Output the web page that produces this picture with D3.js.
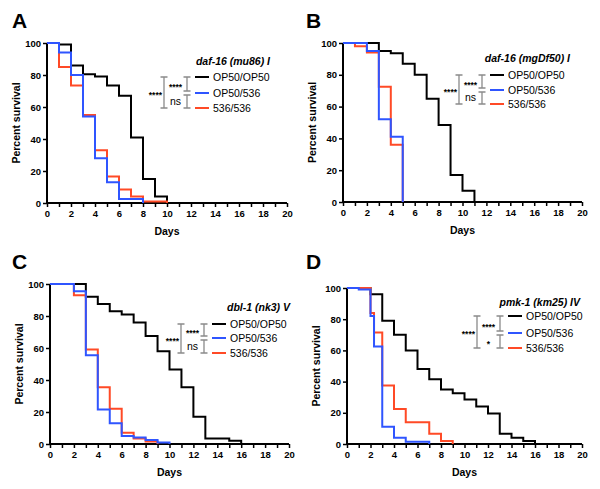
<!DOCTYPE html>
<html>
<head>
<meta charset="utf-8">
<script src="https://cdnjs.cloudflare.com/ajax/libs/d3/7.8.5/d3.min.js"></script>
<style>
  body { margin: 0; background: #fff; }
  text { font-family: "Liberation Sans", Arial, sans-serif; }
</style>
</head>
<body>
<div id="chart"></div>
<script>
// survival data (days, percent survival)
var groups = ["OP50/OP50", "OP50/536", "536/536"];
var colors = ["#000000", "#2f55ff", "#ff4a26"];

// A: daf-16 (mu86) I
var a_days_op50 = [0, 1, 2, 3, 4, 5, 6, 7, 8, 9, 10];
var a_surv_op50 = [100, 99, 86, 80.5, 79, 73.5, 67, 41, 15, 4, 0];
var a_days_mix = [0, 1, 2, 3, 4, 5, 6, 8];
var a_surv_mix = [100, 94, 80, 54, 28, 13, 2.5, 0];
var a_days_536 = [0, 1, 2, 3, 4, 5, 6, 7, 8, 10];
var a_surv_536 = [100, 85, 73.5, 55, 33, 16.5, 8.5, 4, 1, 0];

// B: daf-16 (mgDf50) I
var b_days_op50 = [0, 3, 4, 5, 6, 7, 8, 9, 10, 11];
var b_surv_op50 = [100, 95, 93.5, 87, 80, 65, 48.5, 17, 7, 0];
var b_days_mix = [0, 2, 3, 4, 5];
var b_surv_mix = [100, 95, 52, 41, 0];
var b_days_536 = [0, 1, 2, 3, 4, 5];
var b_surv_536 = [100, 98, 94, 72.5, 36, 0];

// C: dbl-1 (nk3) V
var c_days_op50 = [0, 3, 4, 5, 6, 7, 8, 9, 10, 11, 12, 13, 15, 16];
var c_surv_op50 = [100, 92, 87.5, 83, 81, 76, 67.5, 58, 46.5, 35.5, 17, 3.5, 2, 0];
var c_days_mix = [0, 2, 3, 4, 5, 6, 7, 8, 9, 10];
var c_surv_mix = [100, 95.5, 55.5, 21.5, 13, 5, 4, 2.5, 1, 0];
var c_days_536 = [0, 2, 3, 4, 5, 6, 7, 8, 9];
var c_surv_536 = [100, 93, 59, 35.5, 22, 7, 3.5, 1.5, 0];

// D: pmk-1 (km25) IV
var d_days_op50 = [0, 2, 3, 4, 5, 6, 7, 8, 9, 10, 11, 12, 13, 14, 15, 16];
var d_surv_op50 = [100, 96, 79, 70, 60, 48, 41.5, 35, 32.5, 28.5, 24, 19.5, 6.5, 4, 2, 0];
var d_days_mix = [0, 1, 2, 2.3, 3, 4, 5, 7];
var d_surv_mix = [100, 99, 82, 62.5, 11, 4, 1.5, 0];
var d_days_536 = [0, 2, 2.3, 3, 4, 5, 7, 8, 9];
var d_surv_536 = [100, 84, 71.5, 37.5, 22.5, 14, 6.5, 2, 0];

var x_ticks = d3.range(0, 21, 1);
var y_ticks = [0, 20, 40, 60, 80, 100];

// significance labels: [OP50/OP50 vs 536/536, OP50/OP50 vs OP50/536, OP50/536 vs 536/536]
var panels = [
    {letter: "A", title: "daf-16 (mu86) I", sig: ["****", "****", "ns"],
     days: [a_days_op50, a_days_mix, a_days_536], surv: [a_surv_op50, a_surv_mix, a_surv_536],
     x0: 47, x1: 287, y0: 203, y1: 43, lx: 195, ly: [77, 93, 108], tx: 270, ty: 65},
    {letter: "B", title: "daf-16 (mgDf50) I", sig: ["****", "****", "ns"],
     days: [b_days_op50, b_days_mix, b_days_536], surv: [b_surv_op50, b_surv_mix, b_surv_536],
     x0: 343, x1: 582, y0: 202, y1: 43, lx: 490, ly: [75, 90, 104], tx: 570, ty: 62},
    {letter: "C", title: "dbl-1 (nk3) V", sig: ["****", "****", "ns"],
     days: [c_days_op50, c_days_mix, c_days_536], surv: [c_surv_op50, c_surv_mix, c_surv_536],
     x0: 50, x1: 289, y0: 444, y1: 284, lx: 212, ly: [324, 338, 353], tx: 290, ty: 311},
    {letter: "D", title: "pmk-1 (km25) IV", sig: ["****", "****", "*"],
     days: [d_days_op50, d_days_mix, d_days_536], surv: [d_surv_op50, d_surv_mix, d_surv_536],
     x0: 347, x1: 582, y0: 444, y1: 288, lx: 508, ly: [316, 333, 348], tx: 580, ty: 306}
];

var svg = d3.select("#chart").append("svg")
    .attr("width", 600)
    .attr("height", 489);

svg.append("rect").attr("width", 600).attr("height", 489).attr("fill", "#fff");

var letter_pos = [[12, 28], [306, 28], [12, 269], [306, 269]];

function draw_panel(p, i) {
    var g = svg.append("g");
    var x = d3.scaleLinear().domain([0, 20]).range([p.x0, p.x1]);
    var y = d3.scaleLinear().domain([0, 100]).range([p.y0, p.y1]);

    // panel letter
    g.append("text")
        .attr("x", letter_pos[i][0])
        .attr("y", letter_pos[i][1])
        .attr("font-size", 21)
        .attr("font-weight", "bold")
        .text(p.letter);

    // x axis, a tick every day, label every 2
    var x_axis = g.append("g")
        .attr("transform", "translate(0," + p.y0 + ")")
        .call(d3.axisBottom(x).tickValues(x_ticks).tickSize(4).tickPadding(3)
            .tickFormat(d => d % 2 === 0 ? d : ""));
    var y_axis = g.append("g")
        .attr("transform", "translate(" + p.x0 + ",0)")
        .call(d3.axisLeft(y).tickValues(y_ticks).tickSize(4).tickPadding(2));
    [x_axis, y_axis].forEach(function(ax) {
        ax.select(".domain").remove();
        ax.selectAll(".tick line").attr("stroke-width", 1.5);
        ax.selectAll("text")
            .attr("font-size", 9.5)
            .attr("font-weight", "bold")
            .attr("font-family", "Liberation Sans, Arial, sans-serif")
            .attr("fill", "#000");
    });
    // axis lines without the outer ticks
    g.append("line").attr("x1", p.x0 - 1).attr("x2", p.x1).attr("y1", p.y0).attr("y2", p.y0)
        .attr("stroke", "#000").attr("stroke-width", 2);
    g.append("line").attr("x1", p.x0).attr("x2", p.x0).attr("y1", p.y0).attr("y2", p.y1)
        .attr("stroke", "#000").attr("stroke-width", 2);

    g.append("text")
        .attr("x", (p.x0 + p.x1) / 2)
        .attr("y", p.y0 + 32)
        .attr("text-anchor", "middle")
        .attr("font-size", 10.5)
        .attr("font-weight", "bold")
        .text("Days");
    g.append("text")
        .attr("transform", "translate(" + (p.x0 - 27) + "," + ((p.y0 + p.y1) / 2) + ") rotate(-90)")
        .attr("text-anchor", "middle")
        .attr("font-size", 10.5)
        .attr("font-weight", "bold")
        .text("Percent survival");

    // survival curves, black under red under blue
    var line = d3.line()
        .x(d => x(d[0]))
        .y(d => y(d[1]))
        .curve(d3.curveStepAfter);
    [0, 2, 1].forEach(function(k) {
        var pts = d3.zip(p.days[k], p.surv[k]);
        g.append("path")
            .attr("d", line(pts))
            .attr("fill", "none")
            .attr("stroke", colors[k])
            .attr("stroke-width", 2);
    });

    // legend
    g.append("text")
        .attr("x", p.tx)
        .attr("y", p.ty)
        .attr("text-anchor", "end")
        .attr("font-size", 10.5)
        .attr("font-weight", "bold")
        .attr("font-style", "italic")
        .text(p.title);
    groups.forEach(function(name, k) {
        g.append("line")
            .attr("x1", p.lx).attr("x2", p.lx + 14)
            .attr("y1", p.ly[k]).attr("y2", p.ly[k])
            .attr("stroke", colors[k]).attr("stroke-width", 2);
        g.append("text")
            .attr("x", p.lx + 18)
            .attr("y", p.ly[k] + 4)
            .attr("font-size", 10.5)
            .text(name);
    });

    // significance brackets
    var bx_big = p.lx - 31;
    var bx_small = p.lx - 8;
    function bracket(bx, ya, yb) {
        g.append("path")
            .attr("d", "M" + (bx - 3.5) + "," + ya + "H" + (bx + 3.5) + "M" + bx + "," + ya + "V" + yb +
                "M" + (bx - 3.5) + "," + yb + "H" + (bx + 3.5))
            .attr("fill", "none")
            .attr("stroke", "#8a8a8a")
            .attr("stroke-width", 1.3);
    }
    bracket(bx_big, p.ly[0], p.ly[2]);
    bracket(bx_small, p.ly[0], p.ly[1] - 2);
    bracket(bx_small, p.ly[1] + 2, p.ly[2]);
    g.append("text")
        .attr("x", bx_big - 2)
        .attr("y", (p.ly[0] + p.ly[2]) / 2 + 5)
        .attr("text-anchor", "end")
        .attr("font-size", 8.5)
        .attr("font-weight", "bold")
        .text(p.sig[0]);
    g.append("text")
        .attr("x", (bx_big + bx_small) / 2)
        .attr("y", (p.ly[0] + p.ly[1]) / 2 + 5)
        .attr("text-anchor", "middle")
        .attr("font-size", 8.5)
        .attr("font-weight", "bold")
        .text(p.sig[1]);
    g.append("text")
        .attr("x", (bx_big + bx_small) / 2)
        .attr("y", p.sig[2] === "ns" ? (p.ly[1] + p.ly[2]) / 2 + 4 : (p.ly[1] + p.ly[2]) / 2 + 6)
        .attr("text-anchor", "middle")
        .attr("font-size", p.sig[2] === "ns" ? 10.5 : 8.5)
        .attr("font-weight", p.sig[2] === "ns" ? "normal" : "bold")
        .text(p.sig[2]);
}

panels.forEach(draw_panel);
</script>
</body>
</html>
